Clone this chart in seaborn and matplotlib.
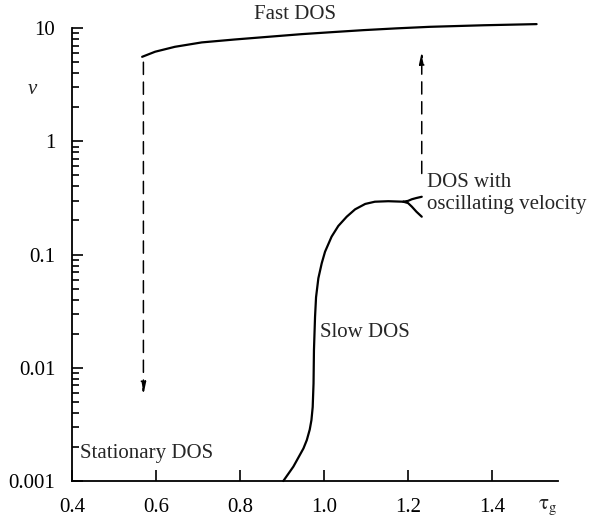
import numpy as np
import pandas as pd
import seaborn as sns
import matplotlib.pyplot as plt
from matplotlib.ticker import LogLocator, FixedLocator, NullFormatter

# Fast DOS branch
fast_tau = [0.567, 0.598, 0.645, 0.709, 0.788, 0.867, 0.947, 1.026, 1.094, 1.172, 1.252, 1.380, 1.506]
fast_v = [5.58, 6.19, 6.84, 7.48, 7.94, 8.38, 8.85, 9.25, 9.60, 9.95, 10.27, 10.6, 10.85]

# Slow DOS branch
slow_tau = [0.903, 0.927, 0.951, 0.959, 0.966, 0.970, 0.973, 0.975, 0.976, 0.9786, 0.981, 0.9865,
            0.9945, 1.0024, 1.018, 1.034, 1.054, 1.074, 1.098, 1.121, 1.153, 1.189]
slow_v = [0.001, 0.00134, 0.00194, 0.0023, 0.00285, 0.00345, 0.0045, 0.00726, 0.0143, 0.0282, 0.042, 0.0618,
          0.0838, 0.106, 0.144, 0.179, 0.216, 0.251, 0.280, 0.293, 0.296, 0.293]

# oscillating-velocity fork at the end of the slow branch
fork_up_tau = [1.189, 1.200, 1.209, 1.220, 1.2326]
fork_up_v = [0.293, 0.298, 0.308, 0.316, 0.324]
fork_dn_tau = [1.189, 1.200, 1.209, 1.220, 1.2326]
fork_dn_v = [0.293, 0.285, 0.265, 0.239, 0.216]

# jumps (dashed arrows): tau, start v, end v
jump_down = (0.57, 5.0, 0.0058)
jump_up = (1.2326, 0.52, 6.2)

x_ticks = [0.4, 0.6, 0.8, 1.0, 1.2, 1.4]
x_ticklabels = ["0.4", "0.6", "0.8", "1.0", "1.2", "1.4"]
y_ticks = [0.001, 0.01, 0.1, 1, 10]
y_ticklabels = ["0.001", "0.01", "0.1", "1", "10"]

sns.set_style("ticks")
plt.rcParams['font.family'] = ['Liberation Serif', 'DejaVu Serif']
plt.rcParams['mathtext.fontset'] = 'stix'

fig = plt.figure(figsize=(5.92, 5.17), dpi=100)
ax = fig.add_axes([0.1216, 0.0696, 0.821, 0.876])

def curve(tau, v):
    df = pd.DataFrame({"tau": tau, "v": v})
    sns.lineplot(data=df, x="tau", y="v", sort=False, estimator=None,
                 color="black", linewidth=1.6, ax=ax, clip_on=False)

curve(fast_tau, fast_v)
curve(slow_tau, slow_v)
curve(fork_up_tau, fork_up_v)
curve(fork_dn_tau, fork_dn_v)

for x0, y0, y1 in (jump_down, jump_up):
    ax.annotate("", xy=(x0, y1), xytext=(x0, y0),
                arrowprops=dict(arrowstyle="-|>,head_length=0.7,head_width=0.15",
                                linestyle=(0, (8, 5)), lw=1.1, color="black",
                                shrinkA=0, shrinkB=0))

ax.set_yscale("log")
ax.set_xlim(0.4, 1.557)
ax.set_ylim(0.001, 10)
ax.xaxis.set_major_locator(FixedLocator(x_ticks))
ax.set_xticklabels(x_ticklabels)
ax.yaxis.set_major_locator(FixedLocator(y_ticks))
ax.set_yticklabels(y_ticklabels)
ax.yaxis.set_minor_locator(LogLocator(base=10, subs=np.arange(2, 10)))
ax.yaxis.set_minor_formatter(NullFormatter())

ax.tick_params(axis="both", which="major", direction="in", length=8, width=1.2,
               labelsize=15, color="black", labelcolor="black")
ax.tick_params(axis="y", which="major", pad=12)
ax.tick_params(axis="x", which="major", pad=12)
ax.tick_params(axis="y", which="minor", direction="in", length=5, width=1.2, color="black")
sns.despine(ax=ax)
for s in ("left", "bottom"):
    ax.spines[s].set_linewidth(1.3)
    ax.spines[s].set_color("black")
ax.set_xlabel("")
ax.set_ylabel("")

# labels
ax.text(-0.082, 0.865, "v", transform=ax.transAxes, fontsize=15, style="italic",
        ha="center", va="center")
ax.text(0.978, -0.058, r"$\mathrm{\tau_g}$", transform=ax.transAxes, fontsize=15,
        ha="center", va="center")
ax.text(0.93, 13.2, "Fast DOS", fontsize=15, ha="center", va="center")
ax.text(0.99, 0.0207, "Slow DOS", fontsize=15, ha="left", va="center")
ax.text(1.244, 0.345, "DOS with\noscillating velocity", fontsize=15,
        ha="left", va="center", linespacing=1.25)
ax.text(0.419, 0.00175, "Stationary DOS", fontsize=15, ha="left", va="center")

fig.savefig("out.png", dpi=100)
